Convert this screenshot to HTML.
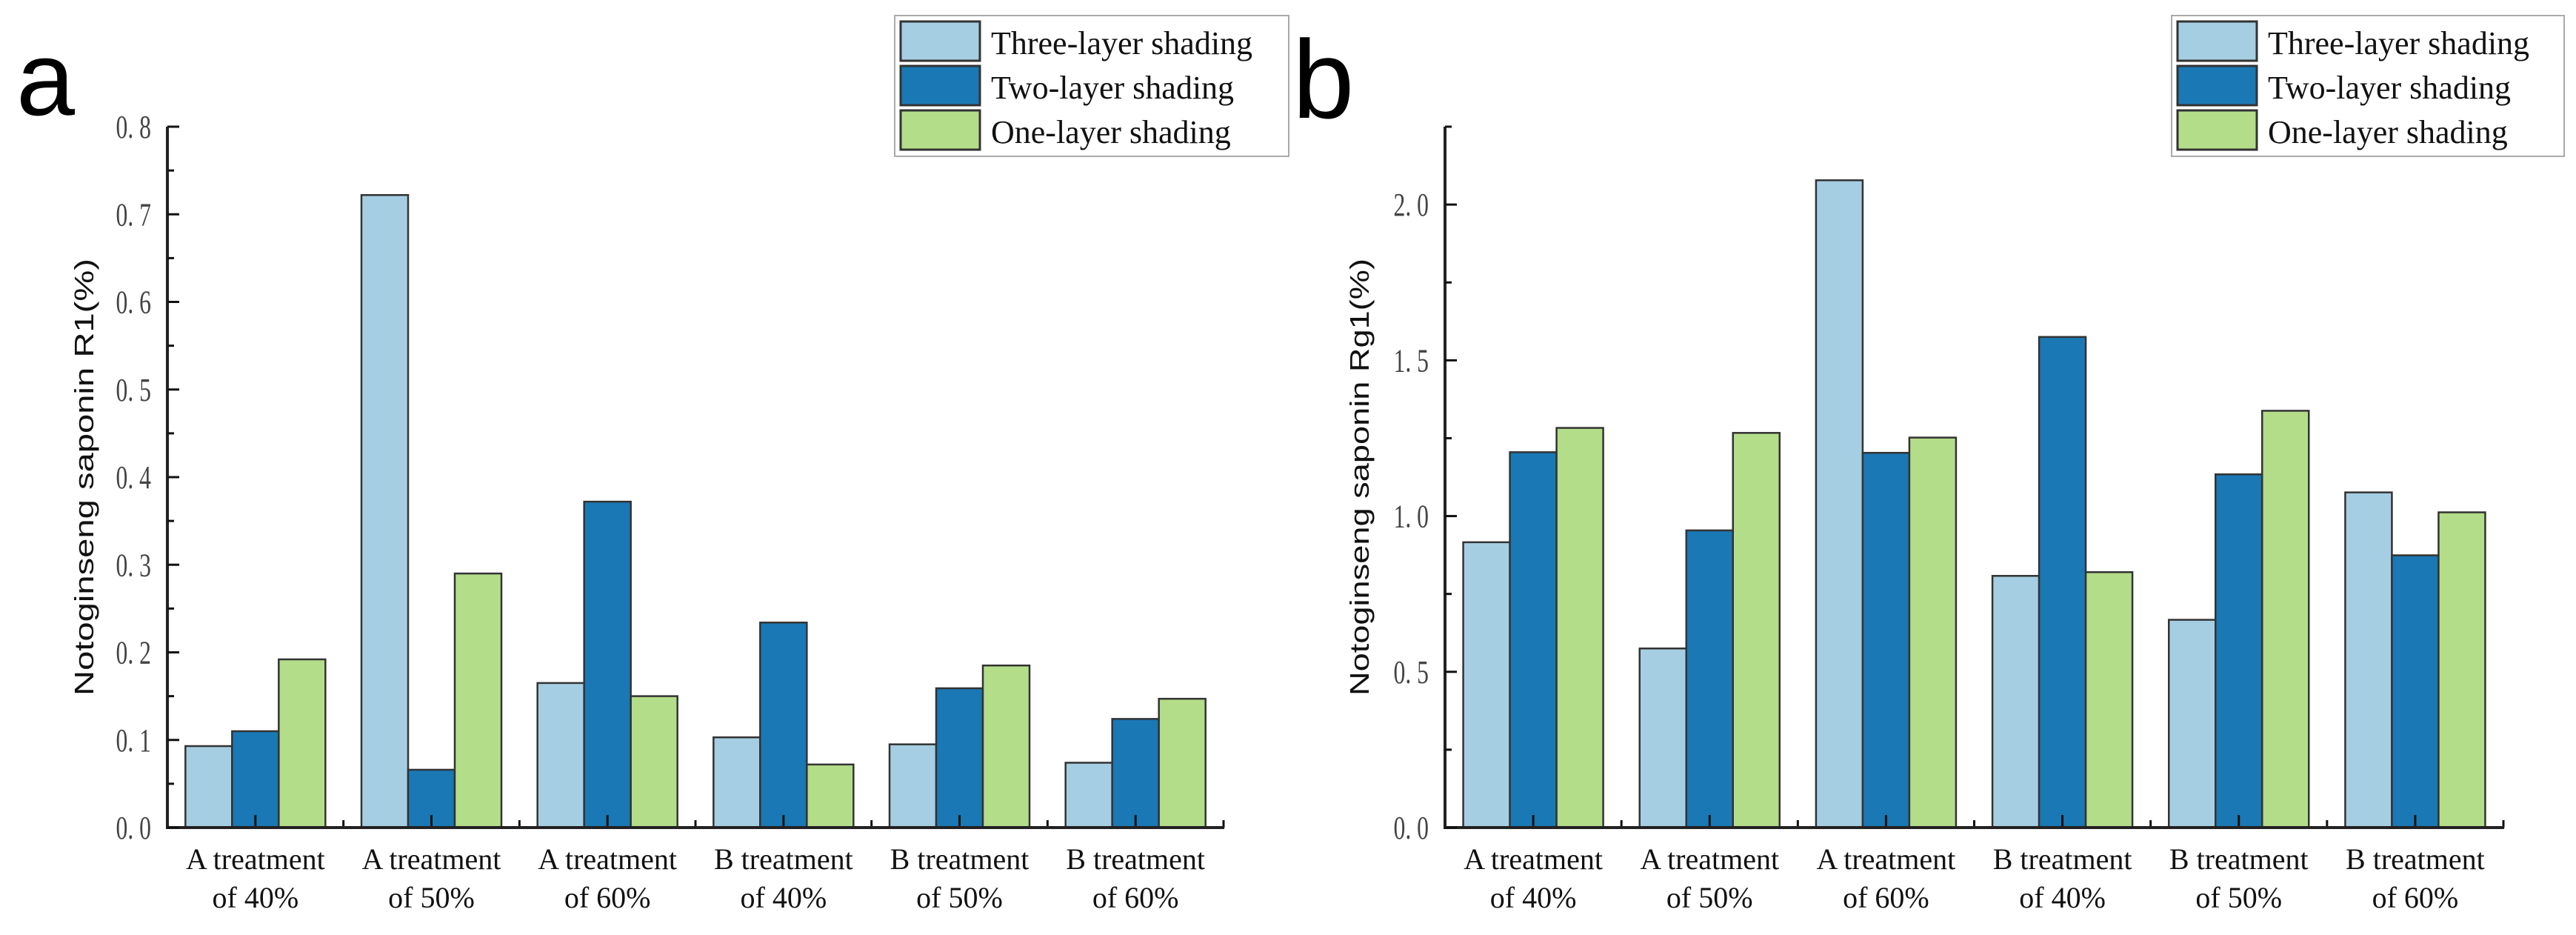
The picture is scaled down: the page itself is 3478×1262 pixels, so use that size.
<!DOCTYPE html>
<html><head><meta charset="utf-8">
<style>
html,body{margin:0;padding:0;background:#fff;}
svg{display:block;}
.tick{font-family:"Liberation Serif","Noto Serif CJK SC",serif;font-size:44px;fill:#444;}
.xl{font-family:"Liberation Serif",serif;font-size:40px;fill:#111;}
.yt{font-family:"Liberation Sans",sans-serif;font-size:36px;fill:#111;}
.lg{font-family:"Liberation Serif",serif;font-size:44px;fill:#111;}
</style></head>
<body>
<svg id="fig" width="3478" height="1262" viewBox="0 0 3478 1262" xmlns="http://www.w3.org/2000/svg">
<text x="22" y="155" font-family="Liberation Sans, sans-serif" font-size="142" fill="#000">a</text>
<text x="1745" y="159" font-family="Liberation Sans, sans-serif" font-size="150" fill="#000">b</text>
</svg>
<script>
const categories = ["A treatment|of 40%","A treatment|of 50%","A treatment|of 60%","B treatment|of 40%","B treatment|of 50%","B treatment|of 60%"];
const seriesNames = ["Three-layer shading","Two-layer shading","One-layer shading"];
const r1Three = [0.093,0.722,0.165,0.103,0.095,0.074];
const r1Two   = [0.110,0.066,0.372,0.234,0.159,0.124];
const r1One   = [0.192,0.290,0.150,0.072,0.185,0.147];
const rg1Three = [0.916,0.575,2.078,0.808,0.667,1.076];
const rg1Two   = [1.205,0.954,1.203,1.575,1.134,0.874];
const rg1One   = [1.283,1.267,1.252,0.820,1.338,1.012];
const r1Ticks = ["0. 0","0. 1","0. 2","0. 3","0. 4","0. 5","0. 6","0. 7","0. 8"];
const rg1Ticks = ["0. 0","0. 5","1. 0","1. 5","2. 0"];

const NS="http://www.w3.org/2000/svg";
const svg=document.getElementById('fig');
const colors=["#a6cee3","#1a78b4","#b4dd8a"];
function mk(tag,attrs,parent){const e=document.createElementNS(NS,tag);for(const k in attrs)e.setAttribute(k,attrs[k]);(parent||svg).appendChild(e);return e;}

function drawChart(o){
  const g=mk('g',{});
  
  
  const x0=o.x0,x1=o.x1,y0=1117,yTop=171;
  const y=v=>y0-(v/o.max)*(y0-yTop);
  const n=categories.length, gw=(x1-x0)/n, bw=63;
  const data=o.series;
  for(let i=0;i<n;i++){
    const cx=x0+gw*(i+0.5);
    for(let s=0;s<3;s++){
      const v=data[s][i];
      const r=mk('rect',{x:cx-1.5*bw+s*bw,y:y(v),width:bw,height:y0-y(v),fill:colors[s],stroke:"#333","stroke-width":2.5},g);
      
      
    }
    const t=mk('text',{x:cx,y:1173,'text-anchor':'middle',class:'xl'},g);
    
    
    const parts=categories[i].split('|');
    const a=mk('tspan',{x:cx,y:1173},t);a.textContent=parts[0];
    const b=mk('tspan',{x:cx,y:1225},t);b.textContent=parts[1];
    mk('line',{x1:cx,x2:cx,y1:y0,y2:y0-17,stroke:"#111","stroke-width":3},g);
    if(i>0) mk('line',{x1:x0+gw*i,x2:x0+gw*i,y1:y0,y2:y0-10,stroke:"#111","stroke-width":3},g);
  }
  mk('line',{x1:x1,x2:x1,y1:y0,y2:y0-10,stroke:"#111","stroke-width":3},g);
  const xa=mk('line',{x1:x0-1,x2:x1+1,y1:y0,y2:y0,stroke:"#222","stroke-width":4},g);
  
  
  const ya=mk('line',{x1:x0,x2:x0,y1:yTop,y2:y0+2,stroke:"#222","stroke-width":4},g);
  
  
  for(let k=0;k<o.ticks.length;k++){
    const v=k*o.step;
    mk('line',{x1:x0,x2:x0+16,y1:y(v),y2:y(v),stroke:"#111","stroke-width":3},g);
    const t=mk('text',{x:0,y:0,'text-anchor':'end',class:'tick',transform:`translate(${x0-22},${y(v)+15}) scale(0.72,1)`},g);
    
    
    t.textContent=o.ticks[k];
    if(v+o.step/2<=o.max+1e-9) mk('line',{x1:x0,x2:x0+9,y1:y(v+o.step/2),y2:y(v+o.step/2),stroke:"#111","stroke-width":3},g);
  }
  const yt=mk('text',{x:0,y:0,'text-anchor':'middle',class:'yt',transform:`translate(${o.titleX},644) rotate(-90)`,textLength:590,lengthAdjust:'spacingAndGlyphs'},g);
  
  
  yt.textContent=o.title;
  const lg=mk('g',{},g);
  
  
  mk('rect',{x:o.lx,y:21,width:o.lw,height:190,fill:"#fff",stroke:"#aaa","stroke-width":2},lg);
  const rows=[29,89,149];
  for(let s=0;s<3;s++){
    const e=mk('g',{},lg);
    
    
    mk('rect',{x:o.lx+8,y:rows[s],width:107,height:53,fill:colors[s],stroke:"#333","stroke-width":3},e);
    const t=mk('text',{x:o.lx+130,y:rows[s]+44,class:'lg'},e);
    t.textContent=seriesNames[s];
  }
}
drawChart({name:'chart-r1',key:'r1',x0:226,x1:1652,max:0.8,step:0.1,ticks:r1Ticks,series:[r1Three,r1Two,r1One],title:'Notoginseng saponin R1(%)',titleX:126,lx:1208,lw:532});
drawChart({name:'chart-rg1',key:'rg1',x0:1951,x1:3380,max:2.25,step:0.5,ticks:rg1Ticks,series:[rg1Three,rg1Two,rg1One],title:'Notoginseng saponin Rg1(%)',titleX:1848,lx:2932,lw:530});
</script>
</body></html>
